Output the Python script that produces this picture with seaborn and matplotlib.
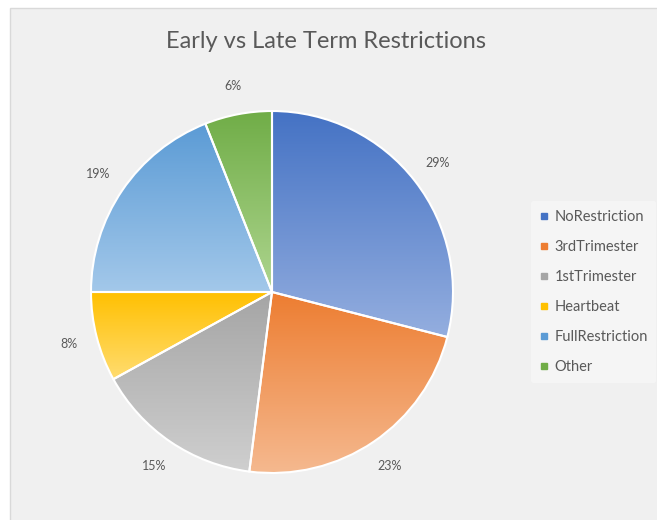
import numpy as np
import matplotlib
matplotlib.use('Agg')
import matplotlib.pyplot as plt
from matplotlib.colors import LinearSegmentedColormap
from matplotlib.lines import Line2D
from matplotlib.patches import Rectangle
import seaborn as sns

# data
categories = ['NoRestriction', '3rdTrimester', '1stTrimester', 'Heartbeat', 'FullRestriction', 'Other']
shares = [29, 23, 15, 8, 19, 6]

# excel-like gradient: dark at the top of each slice, light at the bottom
top_colors = ['#4472C4', '#ED7D31', '#A5A5A5', '#FFC000', '#5B9BD5', '#70AD47']
bottom_colors = ['#94AEDF', '#F5B98F', '#CFCFCF', '#FFDC70', '#A3C8EA', '#AED58F']

sns.set_theme(style='white')
plt.rcParams['font.family'] = ['Lato', 'DejaVu Sans']
text_grey = '#595959'

W, H = 657, 520
fig = plt.figure(figsize=(W / 100, H / 100), dpi=100)
fig.patch.set_facecolor('white')

# chart area background
fig.patches.append(Rectangle((10 / W, -0.01), 1.0, 1 - 8 / H + 0.01, transform=fig.transFigure,
                             facecolor='#f0f0f0', edgecolor='#d9d9d9', linewidth=1, zorder=-10))

# pie axes: center (272, 292) px, radius 181 px
cx, cy, r = 272, 292, 181
lim = 1.25
size = lim * r
ax = fig.add_axes([(cx - size) / W, (H - cy - size) / H, 2 * size / W, 2 * size / H])
ax.set_zorder(1)
ax.set_facecolor('none')

wedges, texts, autotexts = ax.pie(
    shares, startangle=90, counterclock=False, autopct='%1.0f%%', pctdistance=1.16,
    wedgeprops=dict(facecolor='none', edgecolor='white', linewidth=1.5, zorder=3),
    textprops=dict(color=text_grey, fontsize=9),
)

for w, c0, c1 in zip(wedges, top_colors, bottom_colors):
    x0, y0, x1, y1 = w.get_path().get_extents().extents
    cmap = LinearSegmentedColormap.from_list('grad', [c0, c1])
    grad = np.linspace(0, 1, 256)[:, None]
    im = ax.imshow(grad, cmap=cmap, extent=(x0, x1, y0, y1), origin='upper',
                   aspect='auto', zorder=2, interpolation='bilinear')
    im.set_clip_path(w)

ax.set_xlim(-lim, lim)
ax.set_ylim(-lim, lim)
ax.set_aspect('equal')
ax.axis('off')

fig.text(326 / W, 1 - 42 / H, 'Early vs Late Term Restrictions', ha='center', va='center',
         fontsize=17, color=text_grey)

handles = [Line2D([], [], marker='s', linestyle='none', markersize=4, color=c) for c in top_colors]
leg = fig.legend(handles, categories, loc='center left', bbox_to_anchor=(531 / W, 1 - 292 / H),
                 bbox_transform=fig.transFigure, frameon=True, fontsize=10.5, labelspacing=1.1,
                 handlelength=0.6, handletextpad=0.4, borderpad=0.6, borderaxespad=0)
leg.get_frame().set_facecolor('#f7f7f7')
leg.get_frame().set_edgecolor('none')
for t in leg.get_texts():
    t.set_color(text_grey)

fig.savefig('out.png', dpi=100)
